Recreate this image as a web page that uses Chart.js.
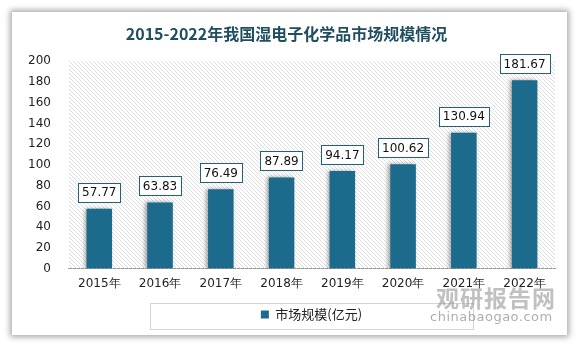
<!DOCTYPE html>
<html>
<head>
<meta charset="utf-8">
<script src="https://cdn.jsdelivr.net/npm/chart.js@4"></script>
<style>
  html, body { margin: 0; padding: 0; background: #ffffff; }
  #wrap { position: relative; width: 583px; height: 349px; overflow: hidden; }
  #card { position: absolute; left: 12px; top: 12px; width: 555px; height: 323px; background: #fff;
          box-shadow: 0 0 6px 2px rgba(0,0,0,0.35); }
  #grafico { position: absolute; left: 0; top: 0; }
  #marca1 { position: absolute; left: 436px; top: 280px; font: bold 23px "Noto Sans CJK SC"; color: rgba(140,140,140,0.55); letter-spacing: 1px; }
  #marca2 { position: absolute; left: 430px; top: 309px; font: 13px "DejaVu Sans"; color: rgba(140,140,140,0.7); letter-spacing: 0.5px; }
</style>
</head>
<body>
<div id="wrap">
  <div id="card"></div>
  <canvas id="grafico" width="583" height="349"></canvas>
  <div id="marca1">观研报告网</div>
  <div id="marca2">chinabaogao.com</div>
</div>
<script>
// ----------------------- dados -----------------------
var anos = ['2015年', '2016年', '2017年', '2018年', '2019年', '2020年', '2021年', '2022年'];
var valores = [57.77, 63.83, 76.49, 87.89, 94.17, 100.62, 130.94, 181.67];
var nomeSerie = '市场规模(亿元)';
var titulo = '2015-2022年我国湿电子化学品市场规模情况';

var corBarra = '#1c6a8c';
var corBorda = '#24607a';

// fundo hachurado
function criaHachura() {
    var c = document.createElement('canvas');
    c.width = 4; c.height = 4;
    var g = c.getContext('2d');
    g.strokeStyle = '#dedede';
    g.lineWidth = 1;
    g.beginPath();
    g.moveTo(0, 0); g.lineTo(4, 4);
    g.moveTo(-1, 3); g.lineTo(1, 5);
    g.moveTo(3, -1); g.lineTo(5, 1);
    g.stroke();
    return c;
}

var pluginFundo = {
    id: 'fundo',
    beforeDatasetsDraw: function (chart) {
        var a = chart.chartArea, ctx = chart.ctx;
        ctx.save();
        ctx.fillStyle = ctx.createPattern(criaHachura(), 'repeat');
        ctx.fillRect(a.left, a.top, a.right - a.left, a.bottom - a.top);
        ctx.restore();
    }
};

var pluginSombra = {
    id: 'sombra',
    beforeDatasetDraw: function (chart) {
        var ctx = chart.ctx;
        ctx.save();
        ctx.shadowColor = 'rgba(0,0,0,0.35)';
        ctx.shadowBlur = 4;
        ctx.shadowOffsetX = -2;
        ctx.shadowOffsetY = 0;
    },
    afterDatasetDraw: function (chart) {
        chart.ctx.restore();
    }
};

var pluginRotulos = {
    id: 'rotulos',
    afterDatasetsDraw: function (chart) {
        var ctx = chart.ctx;
        var meta = chart.getDatasetMeta(0);
        ctx.save();
        ctx.font = '12px "DejaVu Sans"';
        ctx.textAlign = 'center';
        ctx.textBaseline = 'middle';
        meta.data.forEach(function (bar, i) {
            var txt = valores[i].toFixed(2);
            var w = ctx.measureText(txt).width + 8;
            var h = 19;
            var x = bar.x - w / 2;
            var y = bar.y - 7 - h;
            ctx.fillStyle = '#fff';
            ctx.fillRect(x, y, w, h);
            ctx.strokeStyle = corBorda;
            ctx.lineWidth = 1;
            ctx.strokeRect(Math.round(x) + 0.5, Math.round(y) + 0.5, Math.round(w), h);
            ctx.fillStyle = '#111';
            ctx.fillText(txt, bar.x, y + h / 2 + 1);
        });
        ctx.restore();
    }
};

// caixa da legenda + deslocamento para o centro da caixa
var pluginCaixaLegenda = {
    id: 'caixaLegenda',
    afterLayout: function (chart) {
        chart.legend.left += 25;
        chart.legend.right += 25;
    },
    afterDraw: function (chart) {
        var ctx = chart.ctx;
        ctx.save();
        ctx.strokeStyle = '#d4d4d4';
        ctx.lineWidth = 1;
        ctx.strokeRect(150.5, 303.5, 323, 26);
        ctx.restore();
    }
};

var ctx = document.getElementById('grafico').getContext('2d');
var grafico = new Chart(ctx, {
    type: 'bar',
    data: {
        labels: anos,
        datasets: [{
            label: nomeSerie,
            data: valores,
            backgroundColor: corBarra,
            borderWidth: 0,
            categoryPercentage: 1,
            barPercentage: 0.42
        }]
    },
    options: {
        responsive: false,
        animation: false,
        layout: { padding: { left: 18, right: 28, top: 24, bottom: 18 } },
        plugins: {
            title: {
                display: true,
                text: titulo,
                color: '#1f4e5f',
                font: { family: '"Noto Sans CJK SC"', size: 16, weight: 'bold' },
                padding: { top: 0, bottom: 18 }
            },
            legend: {
                position: 'bottom',
                labels: {
                    boxWidth: 8, boxHeight: 8,
                    color: '#222',
                    font: { family: '"Noto Sans CJK SC"', size: 13 },
                    padding: 9
                }
            },
            tooltip: { enabled: false }
        },
        scales: {
            x: {
                grid: { display: false, drawTicks: false },
                border: { color: '#9a9a9a' },
                ticks: { color: '#222', font: { family: '"DejaVu Sans"', size: 12 }, padding: 8 }
            },
            y: {
                min: 0, max: 200,
                grid: { display: false },
                border: { display: false },
                ticks: { stepSize: 20, color: '#222', font: { family: '"DejaVu Sans"', size: 12 }, padding: 10 }
            }
        }
    },
    plugins: [pluginFundo, pluginSombra, pluginRotulos, pluginCaixaLegenda]
});
</script>
</body>
</html>
